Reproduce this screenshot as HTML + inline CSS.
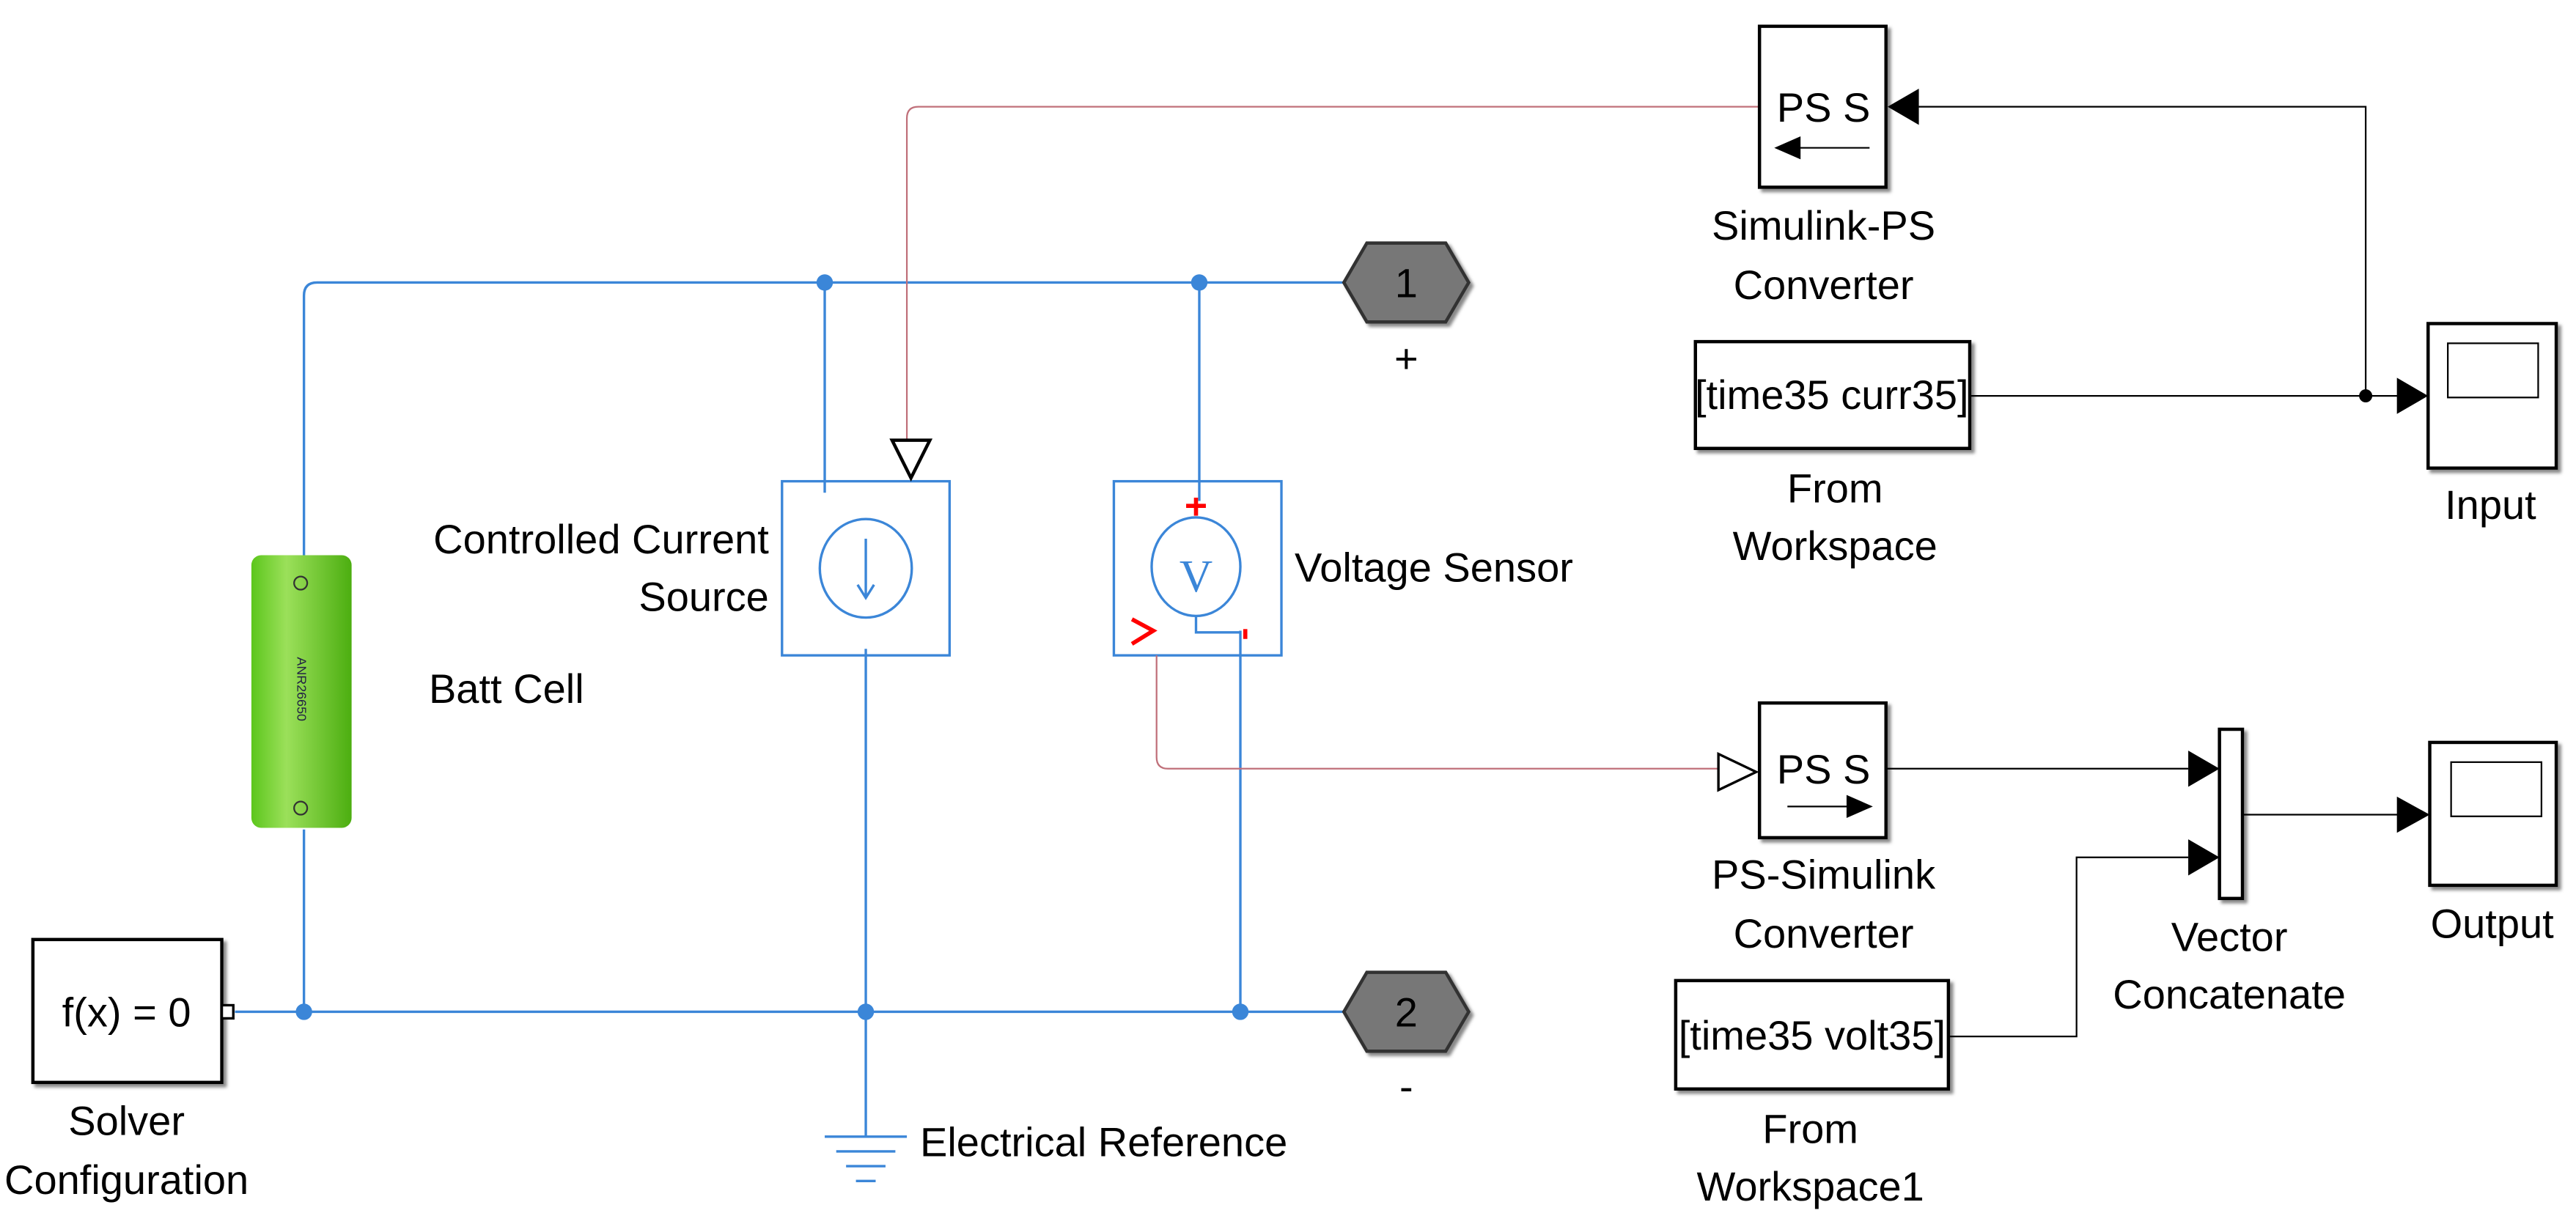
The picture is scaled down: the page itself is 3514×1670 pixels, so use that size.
<!DOCTYPE html>
<html><head><meta charset="utf-8"><style>html,body{margin:0;padding:0;background:#fff}svg{display:block}</style></head><body>
<svg width="3514" height="1670" viewBox="0 0 1568 745.2" xmlns="http://www.w3.org/2000/svg" font-family="Liberation Sans, Arial, sans-serif" font-size="25">
<defs>
<linearGradient id="bg" x1="0" x2="1"><stop offset="0" stop-color="#5cc61c"/><stop offset="0.35" stop-color="#9be05a"/><stop offset="1" stop-color="#4cae10"/></linearGradient>
<filter id="sh"><feDropShadow dx="2" dy="2" stdDeviation="1" flood-color="#888"/></filter>
</defs>
<g fill="none" stroke="#3b86d8" stroke-width="1.5">
<path d="M185 338 V180 Q185 172 193 172 H820"/>
<path d="M185 505 V616 M143 616 H820"/>
<path d="M502 172 V300 M730 172 V305 M527 395 V692 M755 384 V616"/>
<rect x="476" y="293" width="102" height="106"/>
<rect x="678" y="293" width="102" height="106"/>
<ellipse cx="527" cy="346" rx="28" ry="30"/>
<path d="M527 328 V364 M522 356 L527 364 L532 356"/>
<ellipse cx="728" cy="345" rx="27" ry="30"/>
<path d="M728 375 V385 H755"/>
<path d="M502 692 H552 M509 701 H545 M515 710 H539 M521 719 H533"/>
</g>
<text x="728" y="360" text-anchor="middle" fill="#3b86d8" font-family="Liberation Serif, serif" font-size="28">V</text>
<g fill="#3b86d8"><circle cx="502" cy="172" r="5"/><circle cx="730" cy="172" r="5"/><circle cx="185" cy="616" r="5"/><circle cx="527" cy="616" r="5"/><circle cx="755" cy="616" r="5"/></g>
<g stroke="red" stroke-width="2.5" fill="none"><path d="M728 303 V314 M722 308 H734"/><path d="M689 377 L702 384 L689 392"/><path d="M758 383 V389"/></g>
<g stroke="#c0707a" stroke-width="1" fill="none"><path d="M1071 65 H559 Q552 65 552 72 V268"/><path d="M704 399 V461 Q704 468 711 468 H1046"/></g>
<path d="M543 268 L566 268 L554.5 291 Z" fill="#fff" stroke="#000" stroke-width="2"/>
<!-- battery -->
<rect x="153" y="338" width="61" height="166" rx="6" fill="url(#bg)"/>
<text transform="translate(181,400) rotate(90)" font-size="8" fill="#224">ANR26650</text>
<circle cx="183" cy="355" r="4" fill="none" stroke="#333"/><circle cx="183" cy="492" r="4" fill="none" stroke="#333"/>
<!-- solver -->
<rect x="20" y="572" width="115" height="87" fill="#fff" stroke="#000" stroke-width="2" filter="url(#sh)"/>
<rect x="135" y="612" width="7" height="8" fill="#fff" stroke="#000" stroke-width="1.5"/>
<text x="77" y="625" text-anchor="middle">f(x) = 0</text>
<!-- hexagons -->
<polygon points="818,172 832,148 880,148 894,172 880,196 832,196" fill="#777" stroke="#333" stroke-width="2" filter="url(#sh)"/>
<text x="856" y="181" text-anchor="middle">1</text>
<polygon points="818,616 832,592 880,592 894,616 880,640 832,640" fill="#777" stroke="#333" stroke-width="2" filter="url(#sh)"/>
<text x="856" y="625" text-anchor="middle">2</text>
<text x="856" y="227" text-anchor="middle">+</text>
<text x="856" y="670" text-anchor="middle">-</text>
<!-- right blocks -->
<g fill="#fff" stroke="#000" stroke-width="2" filter="url(#sh)">
<rect x="1071" y="16" width="77" height="98"/>
<rect x="1032" y="208" width="167" height="65"/>
<rect x="1478" y="197" width="78" height="88"/>
<rect x="1071" y="428" width="77" height="82"/>
<rect x="1351" y="444" width="14" height="103"/>
<rect x="1479" y="452" width="77" height="87"/>
<rect x="1020" y="597" width="166" height="66"/>
</g>
<g fill="none" stroke="#000" stroke-width="1"><rect x="1490" y="209" width="55" height="33"/><rect x="1492" y="464" width="55" height="33"/></g>
<text x="1110" y="74" text-anchor="middle">PS S</text>
<path d="M1138 90 H1094" stroke="#000"/><path d="M1080 90 L1096 83 L1096 97 Z"/>
<text x="1110" y="477" text-anchor="middle">PS S</text>
<path d="M1088 491 H1125" stroke="#000"/><path d="M1140 491 L1124 484 L1124 498 Z"/>
<text x="1115" y="249" text-anchor="middle">[time35 curr35]</text>
<text x="1103" y="639" text-anchor="middle">[time35 volt35]</text>
<!-- signal lines -->
<g stroke="#000" stroke-width="1" fill="none">
<path d="M1168 65 H1440 V241"/><path d="M1199 241 H1460"/>
<path d="M1148 468 H1332"/><path d="M1186 631 H1264 V522 H1332"/>
<path d="M1365 496 H1460"/>
<path d="M1046 459 L1069 470 L1046 481 Z" fill="#fff" stroke-width="1.5"/>
</g>
<circle cx="1440" cy="241" r="4"/>
<path d="M1149 65 L1168 54 L1168 76 Z"/>
<path d="M1478 241 L1459 230 L1459 252 Z"/>
<path d="M1351 468 L1332 457 L1332 479 Z"/>
<path d="M1351 522 L1332 511 L1332 533 Z"/>
<path d="M1479 496 L1459 485 L1459 507 Z"/>
<!-- labels -->
<g text-anchor="middle">
<text x="1110" y="146">Simulink-PS</text><text x="1110" y="182">Converter</text>
<text x="1117" y="306">From</text><text x="1117" y="341">Workspace</text>
<text x="1516" y="316">Input</text>
<text x="1110" y="541">PS-Simulink</text><text x="1110" y="577">Converter</text>
<text x="1357" y="579">Vector</text><text x="1357" y="614">Concatenate</text>
<text x="1517" y="571">Output</text>
<text x="1102" y="696">From</text><text x="1102" y="731">Workspace1</text>
<text x="77" y="691">Solver</text><text x="77" y="727">Configuration</text>
</g>
<g text-anchor="end"><text x="468" y="337">Controlled Current</text><text x="468" y="372">Source</text></g>
<text x="261" y="428">Batt Cell</text>
<text x="788" y="354">Voltage Sensor</text>
<text x="560" y="704">Electrical Reference</text>
</svg>
</body></html>
